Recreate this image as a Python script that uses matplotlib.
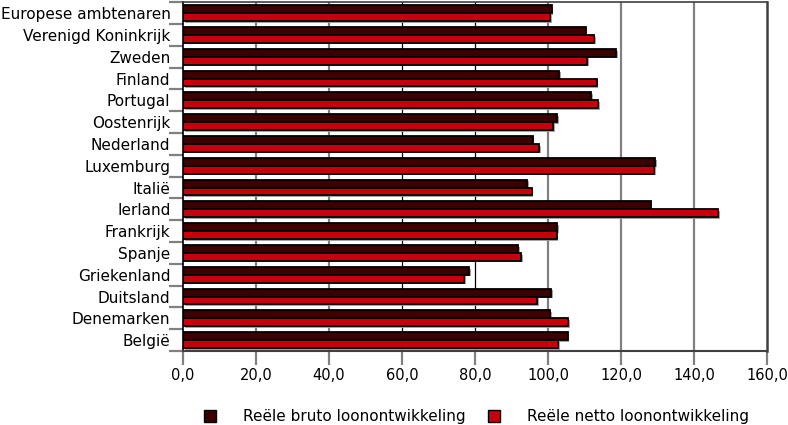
import matplotlib
matplotlib.use("Agg")
import matplotlib.pyplot as plt
import matplotlib.patheffects as pe
from matplotlib.lines import Line2D
import numpy as np

# data
landen = ["Europese ambtenaren", "Verenigd Koninkrijk", "Zweden", "Finland",
          "Portugal", "Oostenrijk", "Nederland", "Luxemburg", "Italië",
          "Ierland", "Frankrijk", "Spanje", "Griekenland", "Duitsland",
          "Denemarken", "België"]
bruto = [101.0, 110.3, 118.6, 103.1, 111.8, 102.5, 95.8, 129.3, 94.3,
         128.1, 102.5, 91.8, 78.4, 100.9, 100.5, 105.4]
netto = [100.5, 112.6, 110.8, 113.3, 113.8, 101.5, 97.5, 129.0, 95.5,
         146.7, 102.4, 92.7, 77.1, 97.0, 105.5, 102.8]
xticks = [0, 20, 40, 60, 80, 100, 120, 140, 160]
xlabels = ["0,0", "20,0", "40,0", "60,0", "80,0", "100,0", "120,0", "140,0", "160,0"]
namen = ["Reële bruto loonontwikkeling", "Reële netto loonontwikkeling"]

kleur_bruto = "#3d0000"
kleur_netto = "#c8000c"

plt.rcParams["font.family"] = ["DejaVu Sans"]

fig = plt.figure(figsize=(7.88, 4.25), dpi=100)
ax = fig.add_axes([0.2322, 0.1741, 0.7412, 0.8206])

# rasterlijnen
grid_kleuren = ["#808080", "#808080", "#000000", "#000000", "#808080", "#808080", "#808080"]
grid_breedte = [1.6, 1.6, 0.9, 0.9, 1.6, 1.6, 1.6]
for x, c, w in zip(xticks[1:-1], grid_kleuren, grid_breedte):
    ax.axvline(x, color=c, lw=w, zorder=0)

y = np.arange(len(landen))
h = 0.36
schaduw = [pe.SimplePatchShadow(offset=(1.2, -1.2), shadow_rgbFace="#9a9a9a", alpha=0.9), pe.Normal()]
b1 = ax.barh(y - h / 2, bruto, height=h, color=kleur_bruto, edgecolor="black", lw=1.3, zorder=2)
b2 = ax.barh(y + h / 2, netto, height=h, color=kleur_netto, edgecolor="black", lw=1.3, zorder=2)
for bar in list(b1) + list(b2):
    bar.set_path_effects(schaduw)

ax.set_xlim(0, 160)
ax.set_ylim(len(landen) - 0.5, -0.5)

ax.set_xticks(xticks)
ax.set_xticklabels(xlabels, fontsize=10.5)
ax.tick_params(axis="x", length=10, width=1.6, color="#808080", pad=2)

ax.set_yticks(y)
ax.set_yticklabels(landen, fontsize=11)
ax.set_yticks(np.arange(len(landen) + 1) - 0.5, minor=True)
ax.tick_params(axis="y", which="major", length=0, pad=9)
ax.tick_params(axis="y", which="minor", length=10, width=1.6, color="#808080")

ax.spines["left"].set_color("black")
ax.spines["left"].set_linewidth(1.2)
ax.spines["bottom"].set_color("#404040")
ax.spines["bottom"].set_linewidth(1.5)
ax.spines["right"].set_color("#404040")
ax.spines["right"].set_linewidth(1.8)
ax.spines["top"].set_color("#404040")
ax.spines["top"].set_linewidth(1.2)

handles = [Line2D([], [], ls="none", marker="s", markersize=9, markerfacecolor=kleur_bruto,
                  markeredgecolor="black", markeredgewidth=1.0),
           Line2D([], [], ls="none", marker="s", markersize=9, markerfacecolor=kleur_netto,
                  markeredgecolor="black", markeredgewidth=1.0)]
fig.legend(handles, namen, loc="center", bbox_to_anchor=(0.604, 0.02), ncol=2,
           frameon=False, fontsize=11, handletextpad=1.7, columnspacing=1.45,
           handlelength=0.9, borderaxespad=0)

fig.savefig("out.png", dpi=100)
